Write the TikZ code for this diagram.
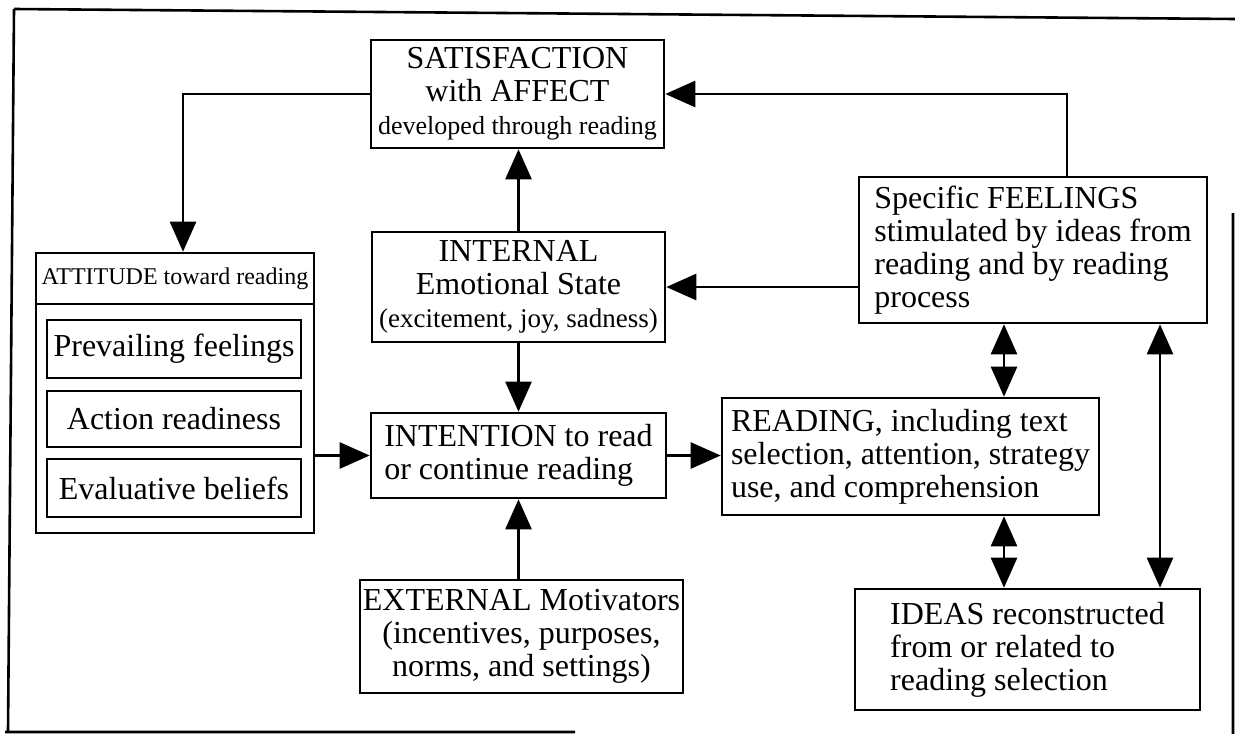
\documentclass[tikz,border=0pt]{standalone}
\usepackage{fontspec}
\setmainfont{Liberation Serif}
\usetikzlibrary{arrows.meta}
\newcommand{\bigtxt}{\fontsize{32}{33}\selectfont}
\newcommand{\smalltxt}{\fontsize{27}{28}\selectfont}
\tikzset{
  box/.style={draw, line width=2.6pt, inner sep=0pt, font=\bigtxt, align=center},
  link/.style={line width=2.6pt, -{Triangle[length=30pt,width=26pt]}},
  both/.style={line width=2.6pt, {Triangle[length=30pt,width=26pt]}-{Triangle[length=30pt,width=26pt]}},
}
\begin{document}
\begin{tikzpicture}[x=1pt,y=-1pt]
      \useasboundingbox (0,0) rectangle (1235,734);
      \draw[line width=2.6pt]
        (14,9) -- (1235,19)
        (14,9) -- (8,732)
        (5,732) -- (575,732)
        (1233,213) -- (1233,734);
      \node[box, minimum width=293pt, minimum height=108pt] (sat) at (517.5,94)
        {SATISFACTION\\ with AFFECT\\ {\fontsize{26}{27}\selectfont developed through reading}};
      \node[box, minimum width=293pt, minimum height=110pt] (intern) at (518.5,287)
        {INTERNAL\\ Emotional State\\ {\smalltxt (excitement, joy, sadness)}};
      \node[box, align=left, minimum width=295pt, minimum height=85pt] (intent) at (518.5,455.5)
        {INTENTION to read\\ or continue reading};
      \node[box, minimum width=323pt, minimum height=113pt] (extern) at (521.5,636.5)
        {EXTERNAL Motivators\\ (incentives, purposes,\\ norms, and settings)};
      \node[box, align=left, minimum width=348pt, minimum height=146pt] (feel) at (1033,250)
        {Specific FEELINGS\\ stimulated by ideas from\\ reading and by reading\\ process};
      \node[box, align=left, minimum width=377pt, minimum height=117pt] (read) at (910.5,456.5)
        {READING, including text\\ selection, attention, strategy\\ use, and comprehension};
      \node[box, align=left, minimum width=345pt, minimum height=121pt] (ideas) at (1027.5,649.5)
        {IDEAS reconstructed\\ from or related to\\ reading selection};
      \node[box, minimum width=278pt, minimum height=280pt] (att) at (175,393) {};
      \node[box, font=\fontsize{24}{25}\selectfont, minimum width=278pt, minimum height=51pt] (atthead) at (175,278.5)
        {ATTITUDE toward reading};
      \node[box, minimum width=254pt, minimum height=58pt] (prev) at (174,349) {Prevailing feelings};
      \node[box, minimum width=254pt, minimum height=56pt] (act) at (174,419) {Action readiness};
      \node[box, minimum width=254pt, minimum height=58pt] (eval) at (174,488) {Evaluative beliefs};
      \coordinate (fr) at (1004,0);
      \coordinate (fi) at (1160,0);
      \begin{scope}[link]
        \draw (sat.west) -| ([xshift=8pt]att.north);
        \draw (intern.north) to (intern.north |- sat.south);
        \draw (intern.south) to (intern.south |- intent.north);
        \draw (extern.north -| intent.south) to (intent.south);
        \draw (att.east |- intent.west) to (intent.west);
        \draw (intent.east) to (intent.east -| read.west);
        \draw (feel.west |- intern.east) to (intern.east);
        \draw ([xshift=34pt]feel.north) |- (sat.east);
      \end{scope}
      \begin{scope}[both]
        \draw (feel.south -| fr) to (read.north -| fr);
        \draw (read.south -| fr) to (ideas.north -| fr);
        \draw (feel.south -| fi) to (ideas.north -| fi);
      \end{scope}
    \end{tikzpicture}
\end{document}
